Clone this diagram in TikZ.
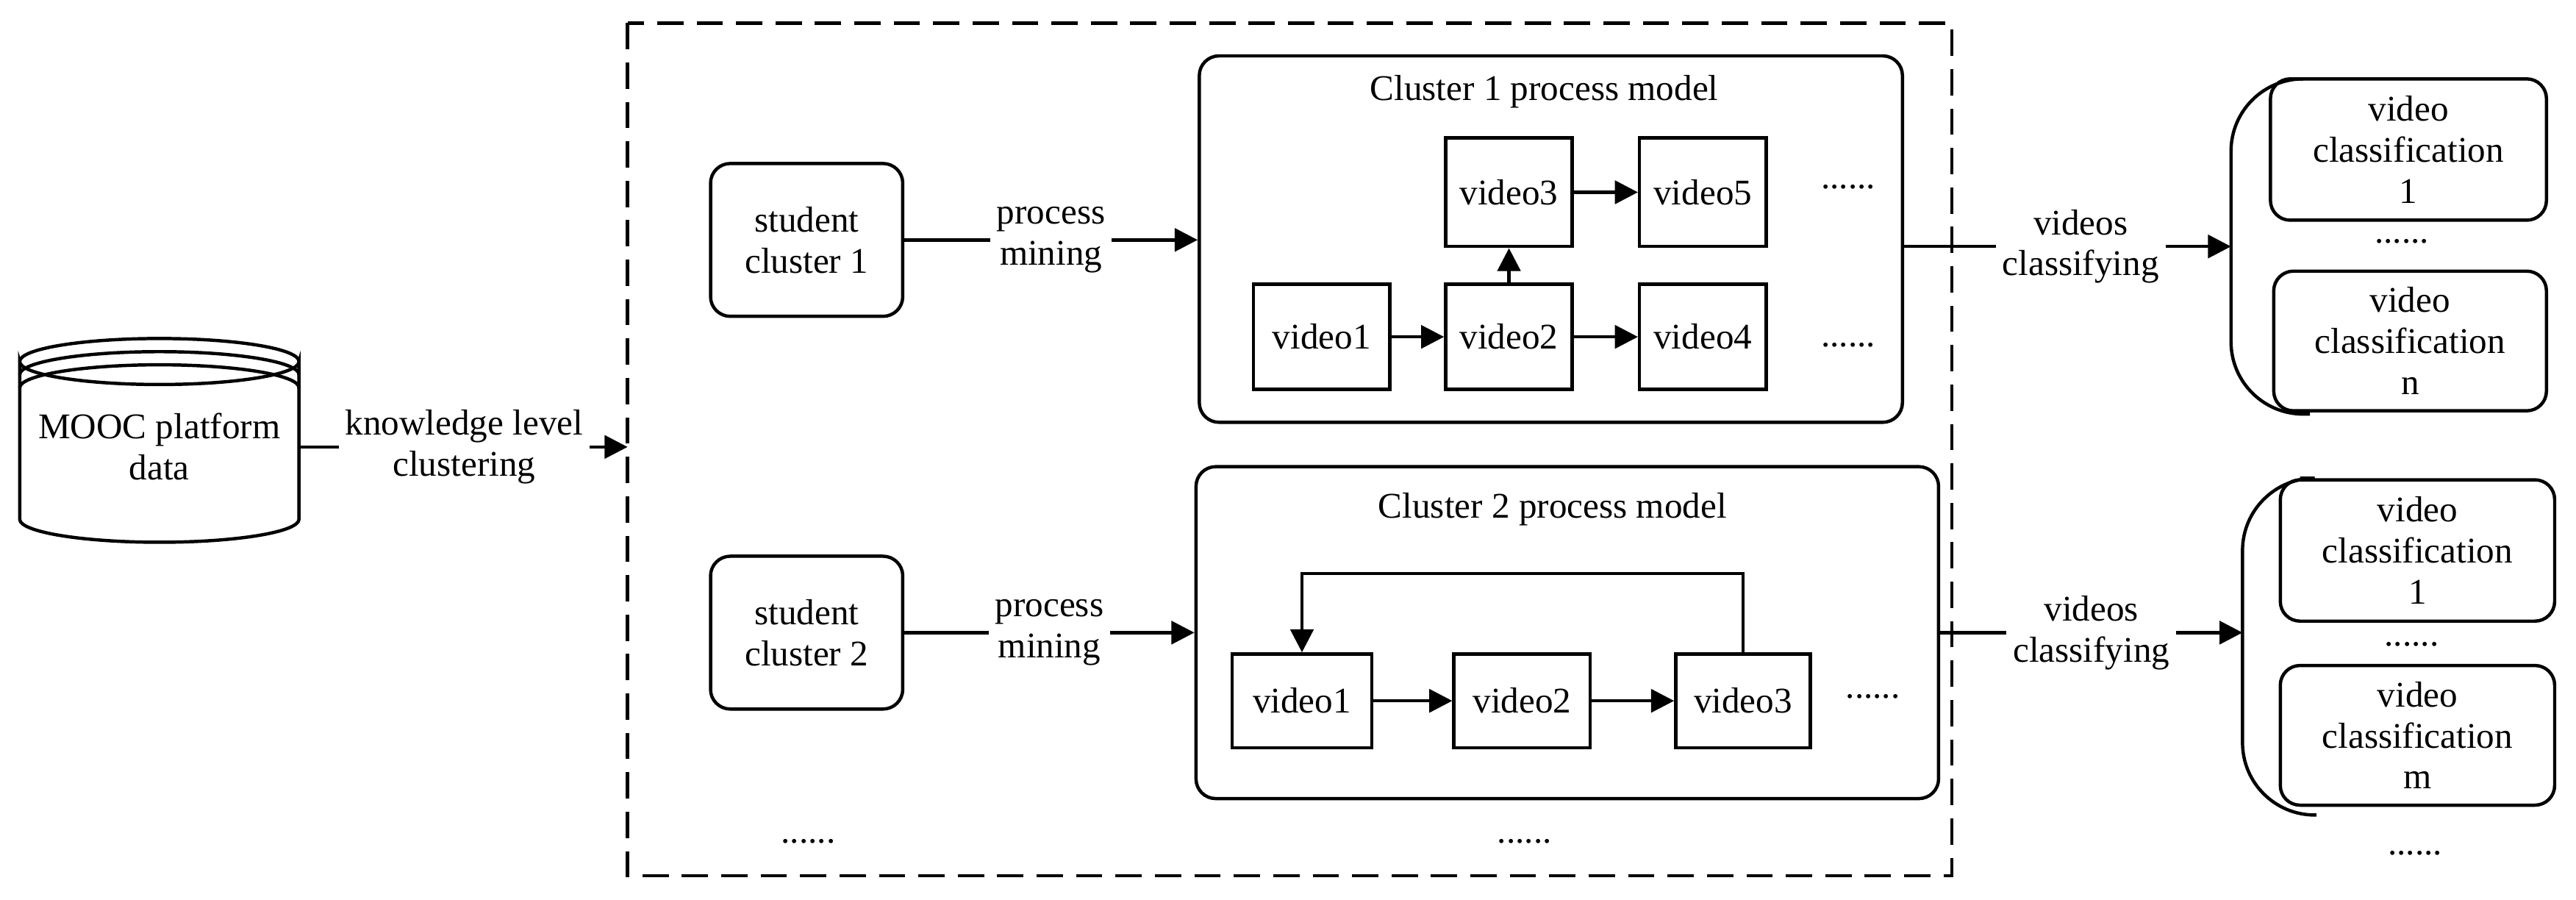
\documentclass[tikz,border=0pt]{standalone}
\usepackage{fontspec}
\setmainfont{Liberation Serif}
\usetikzlibrary{arrows.meta}
\begin{document}
\fontsize{11pt}{12.5pt}\selectfont
\begin{tikzpicture}[x=0.5pt,y=-0.5pt,line width=1pt,
  box/.style={draw,rounded corners=6pt,align=center,inner sep=0pt},
  vid/.style={draw,minimum width=40pt,minimum height=32pt,inner sep=0pt},
  arr/.style={-{Triangle[length=7pt,width=7pt]}},
  lbl/.style={fill=white,align=center,inner sep=2pt}]
\useasboundingbox (0,0) rectangle (1568,547.7);
% cylinder
\draw (12,220) arc[start angle=180,end angle=0,x radius=85,y radius=14]
  -- (182,316) arc[start angle=0,end angle=180,x radius=85,y radius=14] -- cycle;
\draw (12,220) arc[start angle=180,end angle=360,x radius=85,y radius=14];
\draw (12,228) arc[start angle=180,end angle=360,x radius=85,y radius=14];
\draw (12,236) arc[start angle=180,end angle=360,x radius=85,y radius=14];
\node[minimum width=85pt,minimum height=60pt] (db) at (97,270) {};
\node[align=center] (dbt) at (97,272) {MOOC platform\\data};
% dashed region
\draw[dashed,dash pattern=on 8pt off 4pt] (382,14) rectangle (1188,533);
\coordinate (dl) at (382,272);
\draw[arr] (db.east|-dl) -- node[lbl]{knowledge level\\clustering} (dl);
% student clusters
\node[box,minimum width=58.5pt,minimum height=46.5pt] (s1) at (491,146) {student\\cluster 1};
\node[box,minimum width=58.5pt,minimum height=46.5pt] (s2) at (491,385) {student\\cluster 2};
% cluster 1
\node[box,minimum width=214pt,minimum height=111.5pt] (c1) at (944,145.5) {};
\node (c1t) at (940,56) {Cluster 1 process model};
\node[vid,minimum width=41.5pt] (a1) at (804.5,205) {video1};
\node[vid,minimum width=38.5pt] (a2) at (918.5,205) {video2};
\node[vid,minimum width=38.5pt] (a4) at (1036.5,205) {video4};
\node[vid,minimum width=38.5pt,minimum height=33pt] (a3) at (918.5,117) {video3};
\node[vid,minimum width=38.5pt,minimum height=33pt] (a5) at (1036.5,117) {video5};
\node (d1) at (1125,114) {......};
\node (d2) at (1125,210) {......};
\draw[arr] (a1) -- (a2);
\draw[arr] (a2) -- (a4);
\draw[arr] (a2) -- (a3);
\draw[arr] (a3) -- (a5);
% cluster 2
\node[box,minimum width=226pt,minimum height=101pt] (c2) at (954,385) {};
\node (c2t) at (945,310) {Cluster 2 process model};
\node[vid,minimum width=42.5pt,minimum height=28.5pt] (b1) at (792.5,426.5) {video1};
\node[vid,minimum width=41.5pt,minimum height=28.5pt] (b2) at (926.5,426.5) {video2};
\node[vid,minimum width=41pt,minimum height=28.5pt] (b3) at (1061,426.5) {video3};
\node (d3) at (1140,424) {......};
\draw[arr] (b1) -- (b2);
\draw[arr] (b2) -- (b3);
\draw[arr] (b3.north) -- ++(0,-48) -| (b1.north);
\draw[arr] (s1) -- node[lbl]{process\\mining} (c1.west|-s1);
\draw[arr] (s2) -- node[lbl]{process\\mining} (c2.west|-s2);
\node (d4) at (492,512) {......};
\node (d5) at (928,512) {......};
% right group 1
\node[box,minimum width=84pt,minimum height=43pt] (r1) at (1466,91) {video\\classification\\1};
\node[box,minimum width=83pt,minimum height=42.5pt] (r2) at (1467,207.5) {video\\classification\\n};
\node (d6) at (1462,147) {......};
\draw[rounded corners=22pt] (1395,48) -- (1358,48) -- (1358,252) -- (1406,252);
\coordinate (e1) at (1358,150);
\draw[arr] (c1.east|-e1) -- node[lbl,pos=0.54]{videos\\classifying} (e1);
% right group 2
\node[box,minimum width=83.5pt,minimum height=43pt] (r3) at (1471.5,335) {video\\classification\\1};
\node[box,minimum width=83.5pt,minimum height=42.5pt] (r4) at (1471.5,447.5) {video\\classification\\m};
\node (d7) at (1468,392) {......};
\node (d8) at (1470,519) {......};
\draw[rounded corners=22pt] (1400,291) -- (1365,291) -- (1365,496) -- (1410,496);
\coordinate (e2) at (1365,385);
\draw[arr] (c2.east|-e2) -- node[lbl,pos=0.5]{videos\\classifying} (e2);
\end{tikzpicture}
\end{document}
